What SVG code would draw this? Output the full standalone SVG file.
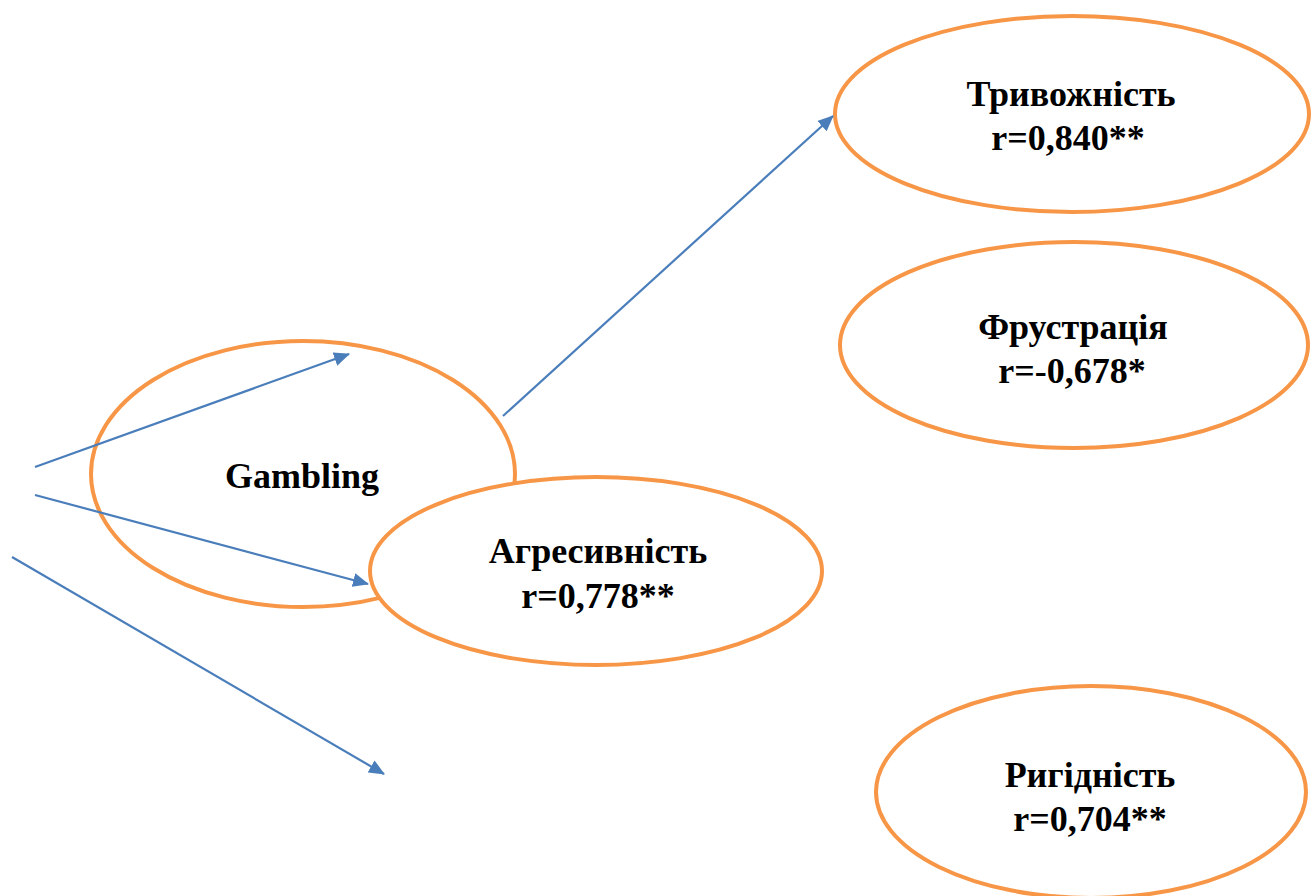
<svg xmlns="http://www.w3.org/2000/svg" width="1314" height="896" viewBox="0 0 1314 896">
<style>
.n{fill:#fff;stroke:#F79646;stroke-width:4}
.t{font-family:"Liberation Serif","Times New Roman",serif;font-weight:bold;font-size:36px;text-anchor:middle;fill:#000}
.c{stroke:#4A7EBB;stroke-width:2.2;fill:none;marker-end:url(#ah)}
</style>
<defs>
<marker id="ah" markerWidth="16" markerHeight="14" refX="15" refY="7" orient="auto" markerUnits="userSpaceOnUse" viewBox="0 0 16 14">
<path d="M0,0 L16,7 L0,14 z" fill="#4A7EBB"/>
</marker>
</defs>
<rect width="1314" height="896" fill="#fff"/>
<g id="gambling">
<ellipse class="n" cx="303" cy="474" rx="212" ry="133"/>
<text class="t" x="302" y="488">Gambling</text>
</g>
<g id="agresyvnist">
<ellipse class="n" cx="596" cy="571" rx="226" ry="94"/>
<text class="t" x="598" y="563">Агресивність</text>
<text class="t" x="598" y="608">r=0,778**</text>
</g>
<g id="tryvozhnist">
<ellipse class="n" cx="1072" cy="114" rx="237" ry="98"/>
<text class="t" x="1071" y="106">Тривожність</text>
<text class="t" x="1068" y="150">r=0,840**</text>
</g>
<g id="frustratsiia">
<ellipse class="n" cx="1074" cy="345" rx="234" ry="103"/>
<text class="t" x="1073" y="339">Фрустрація</text>
<text class="t" x="1072" y="383">r=-0,678*</text>
</g>
<g id="rygidnist">
<ellipse class="n" cx="1091" cy="792" rx="215" ry="106"/>
<text class="t" x="1090" y="787">Ригідність</text>
<text class="t" x="1090" y="831">r=0,704**</text>
</g>
<g id="connectors">
<line class="c" x1="35" y1="467" x2="349" y2="354"/>
<line class="c" x1="35" y1="495" x2="368" y2="584"/>
<line class="c" x1="12" y1="557" x2="384" y2="774"/>
<line class="c" x1="503" y1="416" x2="833" y2="116"/>
</g>
</svg>
